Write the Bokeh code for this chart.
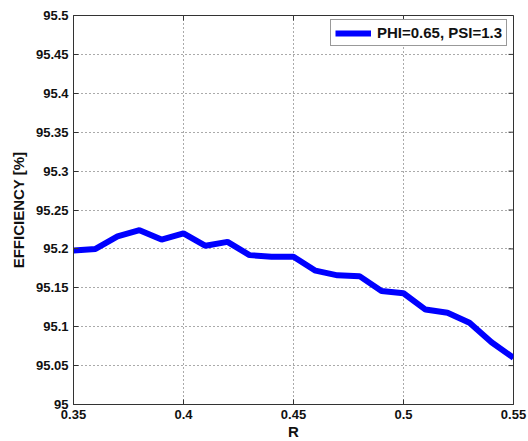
import math
from bokeh.plotting import figure
from bokeh.models import FixedTicker, Range1d, Legend, LegendItem
from bokeh.embed import file_html
from bokeh.resources import INLINE

r_values = [0.35, 0.36, 0.37, 0.38, 0.39, 0.40, 0.41, 0.42, 0.43, 0.44, 0.45,
            0.46, 0.47, 0.48, 0.49, 0.50, 0.51, 0.52, 0.53, 0.54, 0.55]
efficiency = [95.198, 95.200, 95.216, 95.224, 95.212, 95.220, 95.204, 95.209, 95.192, 95.190, 95.190,
              95.172, 95.166, 95.165, 95.146, 95.143, 95.122, 95.118, 95.105, 95.080, 95.060]
series_name = "PHI=0.65, PSI=1.3"

x_ticks = [0.35, 0.4, 0.45, 0.5, 0.55]
x_tick_labels = ["0.35", "0.4", "0.45", "0.5", "0.55"]
y_ticks = [95.0, 95.05, 95.1, 95.15, 95.2, 95.25, 95.3, 95.35, 95.4, 95.45, 95.5]
y_tick_labels = ["95", "95.05", "95.1", "95.15", "95.2", "95.25", "95.3", "95.35", "95.4", "95.45", "95.5"]

FONT = "Liberation Sans"
X0, X1 = x_ticks[0], x_ticks[-1]
Y0, Y1 = y_ticks[0], y_ticks[-1]

p = figure(width=528, height=441, output_backend="svg", toolbar_location=None,
           x_range=Range1d(X0, X1), y_range=Range1d(Y0, Y1),
           min_border_left=73, min_border_right=15, min_border_top=15, min_border_bottom=37)
p.frame_width = 440
p.frame_height = 389

p.background_fill_color = "white"
p.border_fill_color = "white"
p.outline_line_color = "#333333"
p.outline_line_width = 1

line = p.line(r_values, efficiency, line_color="#0000ff", line_width=6)

def style_axis(ax):
    ax.axis_line_color = "#333333"
    ax.major_tick_in = 5
    ax.major_tick_out = 0
    ax.minor_tick_in = 0
    ax.minor_tick_out = 0
    ax.major_tick_line_color = "#333333"
    ax.major_label_text_font = FONT
    ax.major_label_text_font_style = "bold"
    ax.major_label_text_font_size = "13px"
    ax.major_label_text_color = "#111111"
    ax.axis_label_text_font = FONT
    ax.axis_label_text_font_style = "bold"
    ax.axis_label_text_font_size = "15px"
    ax.axis_label_text_color = "#111111"

xa = p.xaxis[0]
xa.ticker = FixedTicker(ticks=x_ticks)
xa.major_label_overrides = dict(zip(x_ticks, x_tick_labels))
xa.axis_label = "R"
xa.axis_label_standoff = 1
xa.major_label_standoff = 5
style_axis(xa)

ya = p.yaxis[0]
ya.ticker = FixedTicker(ticks=y_ticks)
ya.major_label_overrides = dict(zip(y_ticks, y_tick_labels))
ya.axis_label = "EFFICIENCY [%]"
ya.axis_label_standoff = 6
ya.major_label_standoff = 5
style_axis(ya)

# inward ticks on the top and right box edges (MATLAB-style box)
p.ray(x=x_ticks, y=[Y1] * len(x_ticks), length=5, length_units="screen",
      angle=-math.pi / 2, line_color="#333333", line_width=1)
p.ray(x=[X1] * len(y_ticks), y=y_ticks, length=5, length_units="screen",
      angle=math.pi, line_color="#333333", line_width=1)

p.xgrid.ticker = FixedTicker(ticks=x_ticks)
p.ygrid.ticker = FixedTicker(ticks=y_ticks)
for g in (p.xgrid[0], p.ygrid[0]):
    g.grid_line_color = "#555555"
    g.grid_line_dash = "1 3"
    g.grid_line_width = 1

legend = Legend(items=[LegendItem(label=series_name, renderers=[line])],
                location=(257, 358))
legend.label_text_font = FONT
legend.label_text_font_style = "bold"
legend.label_text_font_size = "15px"
legend.label_text_color = "#111111"
legend.glyph_width = 36
legend.glyph_height = 16
legend.label_height = 16
legend.label_standoff = 6
legend.padding = 4
legend.margin = 0
legend.spacing = 0
legend.border_line_color = "#333333"
legend.border_line_width = 1
legend.background_fill_alpha = 1
p.add_layout(legend)

open("out.html", "w").write(file_html(p, INLINE))
